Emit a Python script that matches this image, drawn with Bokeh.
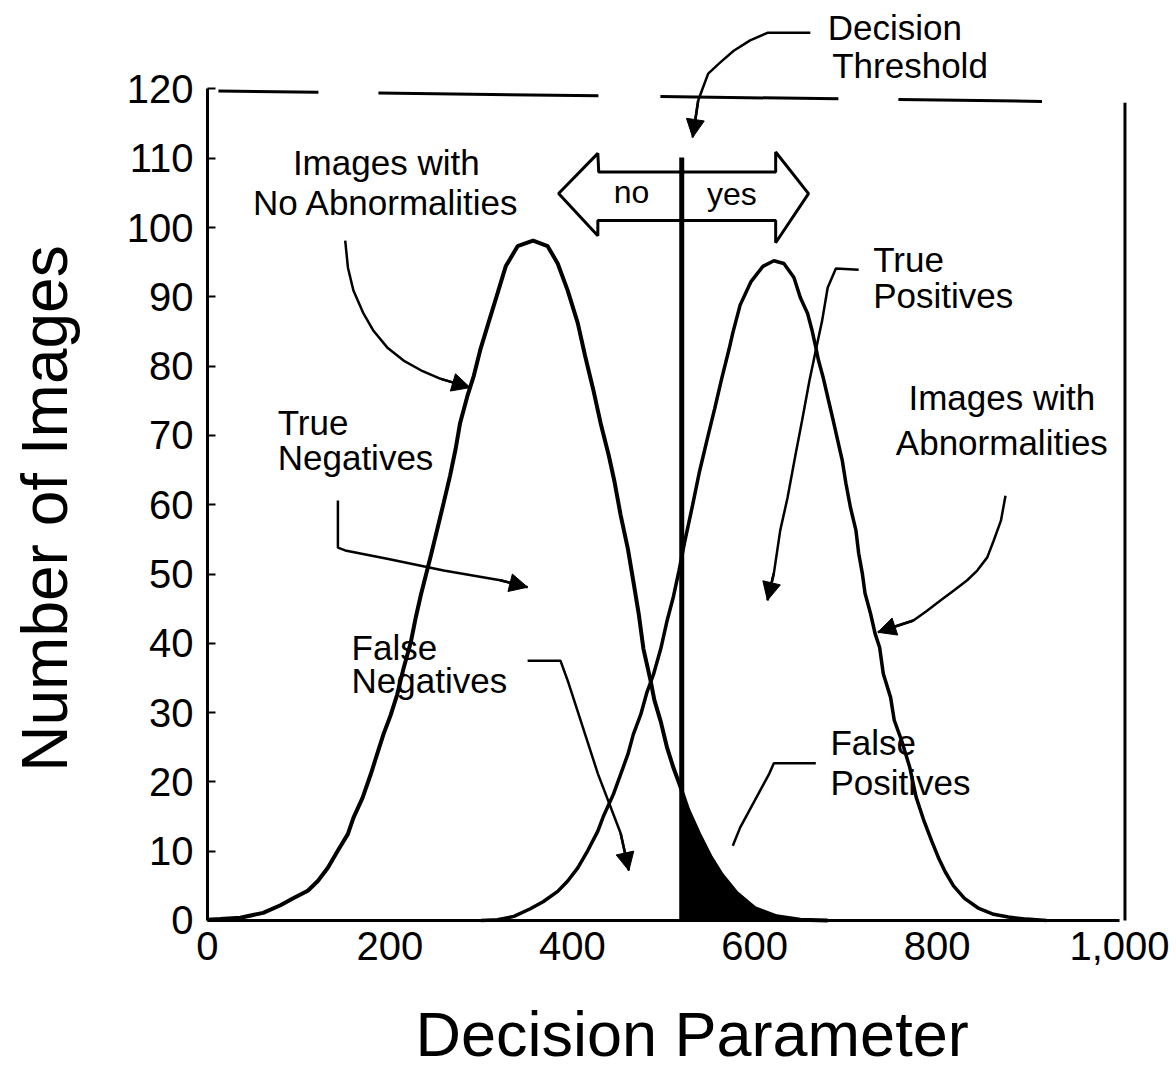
import numpy as np
from math import pi
from bokeh.plotting import figure
from bokeh.models import Range1d, FixedTicker, Arrow, NormalHead
from bokeh.embed import file_html
from bokeh.resources import INLINE
from bokeh.core.properties import value

# ---------------- data ----------------
# Distribution of images with no abnormalities (left curve)
no_abn_x = [0, 14, 36, 61, 80, 94, 110, 121, 132, 143, 154, 160, 170, 179, 186, 193, 201, 208,
            215, 223, 228, 234, 245, 252, 259, 266, 272, 277, 285, 292, 299, 308, 318, 327, 340,
            357, 373, 384, 395, 406, 414, 423, 431, 440, 446, 453, 461, 467, 473, 478, 486, 490,
            497, 504, 511, 518, 527, 539, 552, 564, 580, 600, 624, 650, 680]
no_abn_y = [0.1, 0.2, 0.4, 1.1, 2.2, 3.2, 4.3, 5.7, 7.6, 10.1, 12.5, 14.8, 17.7, 21.1, 24.0, 26.9, 29.7, 32.6,
            36.4, 40.2, 43.5, 47.0, 52.7, 56.5, 60.3, 64.2, 68.0, 71.8, 75.7, 78.6, 82.3, 86.2, 90.5, 94.4, 97.3,
            98.1, 97.3, 94.8, 90.9, 86.2, 81.5, 76.6, 71.8, 67.1, 63.5, 58.5, 53.6, 48.9, 44.1, 39.2, 34.5, 31.8,
            28.7, 24.9, 22.0, 19.5, 16.0, 12.5, 9.1, 6.6, 4.0, 1.8, 0.6, 0.1, 0.0]

# Distribution of images with abnormalities (right curve)
abn_x = [300, 318, 336, 354, 368, 384, 395, 406, 417, 428, 434, 445, 453, 461, 467, 475, 482, 489,
         497, 504, 511, 517, 523, 532, 539, 548, 556, 564, 572, 576, 584, 596, 609, 621, 632, 643,
         650, 658, 663, 667, 670, 675, 681, 686, 691, 696, 700, 705, 711, 714, 718, 721, 727, 732,
         737, 741, 749, 753, 761, 770, 777, 785, 794, 802, 809, 818, 830, 845, 862, 878, 898, 920]
abn_y = [0.0, 0.1, 0.6, 1.7, 2.7, 4.2, 5.7, 7.6, 10.1, 12.9, 15.0, 18.2, 21.1, 24.0, 26.9, 29.7, 33.0, 35.5,
         39.2, 43.3, 46.8, 50.5, 54.5, 60.0, 64.5, 69.5, 73.8, 78.3, 82.5, 84.8, 88.8, 92.2, 94.4, 95.2, 94.8, 92.8,
         89.9, 87.6, 85.1, 82.7, 80.8, 78.4, 75.0, 72.2, 69.3, 66.4, 63.1, 59.6, 56.3, 53.0, 50.1, 47.2, 44.3, 41.4,
         39.4, 35.6, 32.2, 28.9, 26.0, 22.1, 17.8, 14.6, 11.5, 8.9, 7.0, 5.0, 3.2, 1.8, 0.9, 0.5, 0.2, 0.0]

threshold = 520

x_ticks = [0, 200, 400, 600, 800, 1000]
x_tick_labels = ["0", "200", "400", "600", "800", "1,000"]
y_ticks = [0, 10, 20, 30, 40, 50, 60, 70, 80, 90, 100, 110, 120]

x_title = "Decision Parameter"
y_title = "Number of Images"

# ---------------- annotation geometry (data units, text anchored at its middle) ----------------
lbl_text = ["Images with", "No Abnormalities", "True", "Negatives", "False", "Negatives",
            "True", "Positives", "Images with", "Abnormalities", "False", "Positives",
            "Decision", "Threshold"]
lbl_x = [196, 196, 77, 77, 158, 158, 730, 730, 871, 871, 683, 683, 680, 685]
lbl_y = [109.4, 103.6, 71.9, 66.8, 39.4, 34.6, 95.4, 90.2, 75.5, 69.0, 25.7, 19.9, 128.9, 123.4]
lbl_align = ["center", "center", "left", "left", "left", "left", "left", "left",
             "center", "center", "left", "left", "left", "left"]

dir_text = ["no", "yes"]
dir_x = [465, 575]
dir_y = [105.1, 104.8]

arrow_shape_x = [385, 428, 429, 623, 623, 659, 623, 623, 428, 428]
arrow_shape_y = [104.9, 110.7, 108.0, 108.0, 110.9, 104.9, 97.8, 101.0, 101.0, 98.8]

leaders_x = [
    [151, 154, 160, 171, 182, 197, 215, 234, 255, 288],
    [143, 143, 151, 197, 259, 321, 351],
    [351, 387, 395, 428, 453, 462],
    [714, 689, 680, 674, 667, 660, 652, 645, 636, 628, 621, 614],
    [875, 870, 862, 855, 844, 833, 818, 804, 789, 774, 735],
    [667, 621, 616, 600, 584, 576],
    [661, 614, 595, 577, 562, 549, 543, 538, 532],
]
leaders_y = [
    [98.1, 94.2, 90.9, 87.6, 85.1, 82.7, 80.8, 79.4, 78.2, 76.9],
    [60.6, 53.8, 53.4, 52.2, 50.5, 49.1, 48.1],
    [37.5, 37.5, 34.6, 21.2, 12.6, 7.2],
    [93.9, 94.1, 91.3, 86.6, 82.3, 77.9, 72.2, 67.4, 61.0, 56.3, 50.1, 46.2],
    [61.3, 57.7, 54.8, 52.4, 50.5, 49.1, 47.6, 46.2, 44.7, 43.3, 41.6],
    [22.7, 22.7, 21.2, 17.3, 13.4, 10.8],
    [128.1, 128.1, 127.0, 125.5, 123.8, 122.2, 120.1, 118.3, 113.0],
]
leader_has_head = [True, True, True, True, True, False, True]

FONT = "Liberation Sans"

# the frame fills the whole canvas; axes sit at x=0 / y=0 inside it
p = figure(width=1176, height=1071, output_backend="svg", toolbar_location=None,
           x_range=Range1d(-226.97, 1062.5), y_range=Range1d(-21.79, 132.76),
           min_border=0)
p.title.visible = False
p.outline_line_color = None
p.grid.visible = False
p.background_fill_color = "white"
p.border_fill_color = "white"

# axes
p.xaxis.fixed_location = 0
p.yaxis.fixed_location = 0
p.xaxis.ticker = FixedTicker(ticks=x_ticks)
p.xaxis.major_label_overrides = {t: s for t, s in zip(x_ticks, x_tick_labels)}
p.xaxis.bounds = (0, 1000)
p.xaxis.major_tick_in = 0
p.xaxis.major_tick_out = 0
p.xaxis.minor_tick_line_color = None
p.xaxis.major_label_standoff = 12
p.yaxis.ticker = FixedTicker(ticks=y_ticks)
p.yaxis.bounds = (0, 120)
p.yaxis.major_tick_in = 8
p.yaxis.major_tick_out = 0
p.yaxis.major_tick_line_width = 2
p.yaxis.minor_tick_line_color = None
p.yaxis.major_label_standoff = 14
for ax in (p.xaxis, p.yaxis):
    ax.axis_line_width = 3
    ax.axis_line_color = "black"
    ax.major_tick_line_color = "black"
    ax.major_label_text_font = FONT
    ax.major_label_text_font_size = "40px"
    ax.major_label_text_color = "black"

# axis titles
p.text(x=[228], y=[-16.45], text=[x_title], text_align="left", text_baseline="middle",
       text_font=value(FONT), text_font_size="63px", text_color="black")
p.text(x=[-178.7], y=[59.45], text=[y_title], angle=pi / 2, text_align="center",
       text_baseline="middle", text_font=value(FONT), text_font_size="64px",
       text_color="black")

# frame remains (top and right), broken and slightly tilted like the scan
p.line(x=[12, 915], y=[119.7, 118.2], line_color="black", line_width=3,
       line_dash="100 60 220 62 178 60 145 300")
p.line(x=[1006, 1006], y=[0, 118], line_color="black", line_width=3)

# false-positive fill under the no-abnormality curve beyond threshold
fx = np.array(no_abn_x, dtype=float)
fy = np.array(no_abn_y, dtype=float)
mask = fx > threshold
fill_x = np.concatenate([[threshold], fx[mask]])
fill_y = np.concatenate([[np.interp(threshold, fx, fy)], fy[mask]])
p.varea(x=fill_x, y1=np.zeros_like(fill_x), y2=fill_y, fill_color="black")

# curves
p.line(x=no_abn_x, y=no_abn_y, line_color="black", line_width=4)
p.line(x=abn_x, y=abn_y, line_color="black", line_width=3.5)

# threshold line
p.line(x=[threshold, threshold], y=[0, 110.1], line_color="black", line_width=5)

# no / yes double arrow
p.patch(x=arrow_shape_x, y=arrow_shape_y, fill_color=None, line_color="black", line_width=3)

# leader lines and heads
p.multi_line(xs=leaders_x, ys=leaders_y, line_color="black", line_width=2.5)
for xs, ys, head in zip(leaders_x, leaders_y, leader_has_head):
    if head:
        p.add_layout(Arrow(end=NormalHead(size=18, fill_color="black", line_color="black"),
                           x_start=xs[-2], y_start=ys[-2], x_end=xs[-1], y_end=ys[-1],
                           line_color="black", line_width=2.5))

# annotation texts
for t, x, y, a in zip(lbl_text, lbl_x, lbl_y, lbl_align):
    p.text(x=[x], y=[y], text=[t], text_align=a, text_baseline="middle",
           text_font=value(FONT), text_font_size="35px", text_color="black")
p.text(x=dir_x, y=dir_y, text=dir_text, text_align="center", text_baseline="middle",
       text_font=value(FONT), text_font_size="32px", text_color="black")

open("out.html", "w").write(file_html(p, INLINE))
